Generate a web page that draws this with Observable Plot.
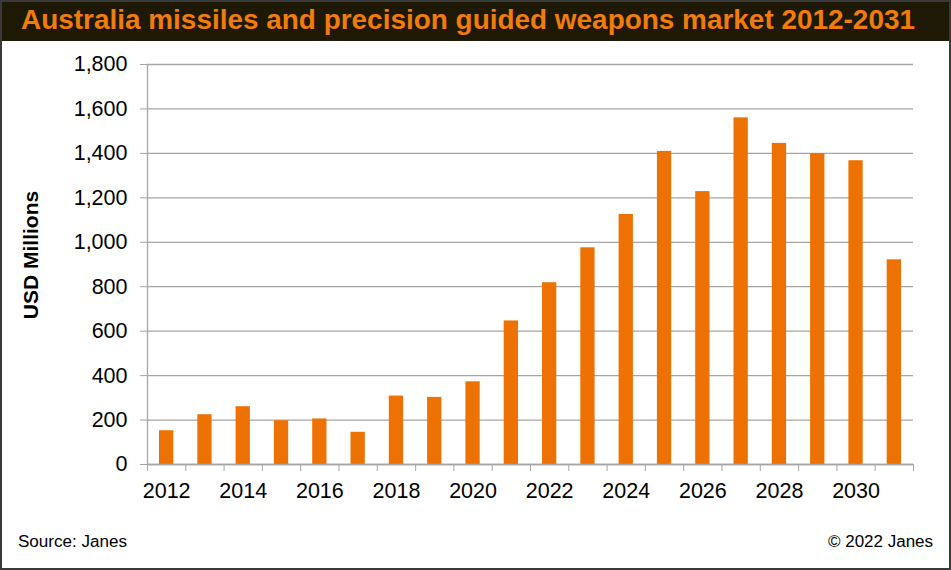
<!DOCTYPE html>
<html>
<head>
<meta charset="utf-8">
<script src="https://cdn.jsdelivr.net/npm/d3@7"></script>
<script src="https://cdn.jsdelivr.net/npm/@observablehq/plot@0.6"></script>
<style>
  html, body { margin: 0; padding: 0; background: #fff; }
  #wrap { position: relative; width: 951px; height: 570px; overflow: hidden; background: #fff; font-family: "Liberation Sans", Arial, sans-serif; }
  #title { position: absolute; left: 0; top: 0; width: 951px; height: 41px; background: #1e1904; }
  #title span { position: absolute; left: 21px; top: 4px; font-family: "Liberation Sans Narrow", "Liberation Sans", Arial, sans-serif; font-weight: bold; font-size: 28px; color: #f07c0c; white-space: nowrap; transform-origin: 0 0; }
  #chart { position: absolute; left: 0; top: 41px; }
  #ytitle { position: absolute; left: 31px; top: 255px; transform: translate(-50%, -50%) rotate(-90deg); font-weight: bold; font-size: 21px; color: #000; white-space: nowrap; }
  .foot { position: absolute; top: 533px; font-size: 16px; color: #000; white-space: nowrap; transform-origin: 0 0; }
  #border { position: absolute; left: 0; top: 0; width: 951px; height: 570px; box-sizing: border-box; border: 2px solid #3a3a3a; pointer-events: none; }
</style>
</head>
<body>
<div id="wrap">
  <div id="title"><span id="titletext">Australia missiles and precision guided weapons market 2012-2031</span></div>
  <div id="chart"></div>
  <div id="ytitle">USD Millions</div>
  <div class="foot" id="src" style="left:18px">Source: Janes</div>
  <div class="foot" id="copy">© 2022 Janes</div>
  <div id="border"></div>
</div>
<script>
const years = [2012,2013,2014,2015,2016,2017,2018,2019,2020,2021,2022,2023,2024,2025,2026,2027,2028,2029,2030,2031];
const values = [152,224,260,197,205,145,308,302,372,646,818,975,1125,1409,1228,1560,1445,1399,1367,921];
const yTicks = [0,200,400,600,800,1000,1200,1400,1600,1800];
const xLabelYears = [2012,2014,2016,2018,2020,2022,2024,2026,2028,2030];
const xBoundaries = years.map(y => y - 0.5).concat([years[years.length-1] + 0.5]);

const data = years.map((year, i) => ({year, value: values[i]}));
const fmt = d3.format(",");

const chart = Plot.plot({
  width: 951,
  height: 479,
  marginTop: 23,
  marginBottom: 56,
  marginLeft: 147,
  marginRight: 38,
  style: { fontFamily: "'Liberation Sans', Arial, sans-serif", fontSize: "21.5px", color: "#000", background: "transparent" },
  x: { domain: [2011.5, 2031.5] },
  y: { domain: [0, 1800] },
  marks: [
    Plot.ruleY(yTicks, { stroke: "#a6a6a6", strokeWidth: 1.3 }),
    Plot.rectY(data, { x1: d => d.year - 0.5, x2: d => d.year + 0.5, y: "value", fill: "#ee7203", insetLeft: 12, insetRight: 12 }),
    Plot.ruleX([2011.5], { stroke: "#a6a6a6", strokeWidth: 1.3 }),
    Plot.ruleY([0], { stroke: "#a6a6a6", strokeWidth: 1.3 }),
    Plot.axisY({ ticks: yTicks, tickFormat: fmt, tickSize: 7, tickPadding: 13, stroke: "#a6a6a6", label: null, fill: "#000" }),
    Plot.axisX({ ticks: xBoundaries, tickFormat: () => "", tickSize: 7, stroke: "#a6a6a6", label: null }),
    Plot.axisX({ ticks: xLabelYears, tickFormat: d => String(d), tickSize: 0, tickPadding: 18, label: null, fill: "#000" })
  ]
});
document.getElementById("chart").appendChild(chart);

// fit title and footers to measured widths of the reference
function fit(el, w) {
  const r = el.getBoundingClientRect();
  el.style.transform = `scaleX(${w / r.width})`;
}
fit(document.getElementById("titletext"), 894);
const src = document.getElementById("src");
fit(src, 109);
const copy = document.getElementById("copy");
const cw = copy.getBoundingClientRect().width;
copy.style.left = (933 - 105) + "px";
copy.style.transform = `scaleX(${105 / cw})`;
</script>
</body>
</html>
